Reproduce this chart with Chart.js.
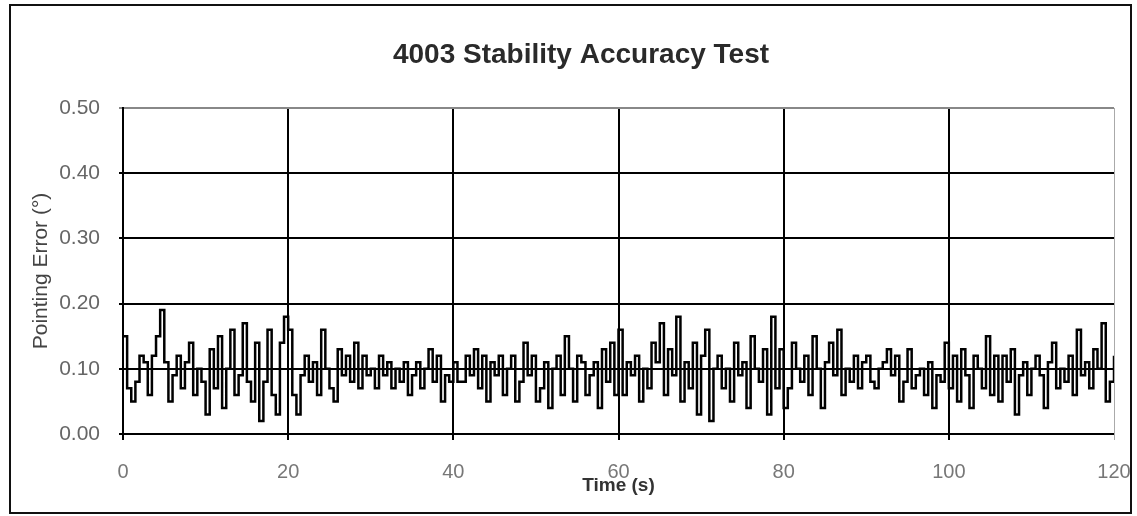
<!DOCTYPE html>
<html>
<head>
<meta charset="utf-8">
<script src="https://cdn.jsdelivr.net/npm/chart.js@4"></script>
<style>
  body { margin: 0; background: #fff; }
  canvas { display: block; }
</style>
</head>
<body>
<canvas id="stabilityChart" width="1137" height="516"></canvas>
<script>
// Titles and axes
const chartTitle = '4003 Stability Accuracy Test';
const xTitle = 'Time (s)';
const yTitle = 'Pointing Error (°)';
const xTicks = [0, 20, 40, 60, 80, 100, 120];
const yTicks = [0.00, 0.10, 0.20, 0.30, 0.40, 0.50];

// Sample interval (s) and pointing error, one array per 20 s
const sampleStep = 0.5;
const error0to20 = [0.15, 0.07, 0.05, 0.08, 0.12, 0.11, 0.06, 0.12, 0.15, 0.19,
  0.11, 0.05, 0.09, 0.12, 0.07, 0.11, 0.14, 0.06, 0.10, 0.08,
  0.03, 0.13, 0.07, 0.15, 0.04, 0.10, 0.16, 0.06, 0.09, 0.17,
  0.08, 0.05, 0.14, 0.02, 0.08, 0.16, 0.06, 0.03, 0.14, 0.18];
const error20to40 = [0.16, 0.06, 0.03, 0.09, 0.12, 0.08, 0.11, 0.06, 0.16, 0.10,
  0.07, 0.05, 0.13, 0.09, 0.12, 0.08, 0.14, 0.07, 0.12, 0.09,
  0.10, 0.07, 0.12, 0.09, 0.11, 0.07, 0.10, 0.08, 0.11, 0.06,
  0.09, 0.11, 0.07, 0.10, 0.13, 0.08, 0.12, 0.05, 0.09, 0.08];
const error40to60 = [0.11, 0.08, 0.08, 0.12, 0.09, 0.13, 0.07, 0.12, 0.05, 0.11,
  0.09, 0.12, 0.06, 0.10, 0.12, 0.05, 0.08, 0.14, 0.09, 0.12,
  0.05, 0.07, 0.11, 0.04, 0.10, 0.12, 0.06, 0.15, 0.10, 0.05,
  0.12, 0.11, 0.06, 0.09, 0.11, 0.04, 0.13, 0.08, 0.14, 0.06];
const error60to80 = [0.16, 0.06, 0.11, 0.09, 0.12, 0.05, 0.10, 0.07, 0.14, 0.11,
  0.17, 0.06, 0.13, 0.09, 0.18, 0.05, 0.11, 0.07, 0.14, 0.03,
  0.12, 0.16, 0.02, 0.10, 0.12, 0.07, 0.10, 0.05, 0.14, 0.09,
  0.11, 0.04, 0.15, 0.10, 0.08, 0.13, 0.03, 0.18, 0.07, 0.13];
const error80to100 = [0.04, 0.07, 0.14, 0.10, 0.08, 0.12, 0.06, 0.15, 0.10, 0.04,
  0.11, 0.14, 0.09, 0.16, 0.06, 0.10, 0.08, 0.12, 0.07, 0.11,
  0.12, 0.08, 0.07, 0.10, 0.11, 0.13, 0.09, 0.12, 0.05, 0.08,
  0.13, 0.07, 0.09, 0.10, 0.06, 0.11, 0.04, 0.09, 0.08, 0.14];
const error100to120 = [0.07, 0.12, 0.05, 0.13, 0.09, 0.04, 0.12, 0.10, 0.07, 0.15,
  0.06, 0.12, 0.05, 0.12, 0.08, 0.13, 0.03, 0.09, 0.11, 0.06,
  0.10, 0.12, 0.09, 0.04, 0.11, 0.14, 0.07, 0.10, 0.08, 0.12,
  0.06, 0.16, 0.09, 0.11, 0.07, 0.13, 0.10, 0.17, 0.05, 0.08, 0.12];

const pointingError = [].concat(error0to20, error20to40, error40to60,
  error60to80, error80to100, error100to120);
const points = pointingError.map((v, i) => ({ x: i * sampleStep, y: v }));

const fontFamily = '"Liberation Sans", Arial, sans-serif';

// frame round the figure + title text
const framePlugin = {
  id: 'frame',
  afterDraw(chart) {
    const c = chart.ctx;
    c.save();
    c.strokeStyle = '#111';
    c.lineWidth = 2;
    c.strokeRect(10, 5, 1121, 508);
    c.fillStyle = '#2a2a2a';
    c.font = 'bold 28px ' + fontFamily;
    c.textAlign = 'center';
    c.textBaseline = 'middle';
    c.fillText(chartTitle, 581, 55);
    c.restore();
  }
};

new Chart(document.getElementById('stabilityChart'), {
  type: 'line',
  data: {
    datasets: [{
      data: points,
      borderColor: '#000',
      borderWidth: 2.5,
      pointRadius: 0,
      stepped: true,
      fill: false
    }]
  },
  options: {
    responsive: false,
    animation: false,
    devicePixelRatio: 1,
    layout: { padding: { top: 108, right: 23, bottom: 0, left: 0 } },
    plugins: {
      legend: { display: false },
      tooltip: { enabled: false },
      title: { display: false }
    },
    scales: {
      x: {
        type: 'linear',
        min: 0,
        max: 120,
        afterFit: s => {
          s.height = 82;
          s.paddingLeft = 0;
          s.paddingRight = 0;
        },
        afterBuildTicks: s => { s.ticks = xTicks.map(v => ({ value: v })); },
        border: { display: false },
        grid: {
          color: ctx => ctx.tick && ctx.tick.value === 120 ? '#aaa' : '#000',
          lineWidth: ctx => ctx.tick && ctx.tick.value === 120 ? 1 : 2,
          tickLength: 6
        },
        ticks: {
          color: '#777',
          font: { family: fontFamily, size: 20 },
          padding: 20,
          maxRotation: 0
        },
        title: {
          display: true,
          text: xTitle,
          color: '#333',
          font: { family: fontFamily, size: 19, weight: 'bold' },
          padding: { top: 0, bottom: 19 }
        }
      },
      y: {
        min: 0,
        max: 0.5,
        afterFit: s => { s.width = 123; },
        afterBuildTicks: s => { s.ticks = yTicks.map(v => ({ value: v })); },
        border: { display: true, color: '#000', width: 2 },
        grid: {
          color: ctx => ctx.tick && ctx.tick.value === 0.5 ? '#888' : '#000',
          lineWidth: 2,
          tickLength: 4
        },
        ticks: {
          color: '#666',
          font: { family: fontFamily, size: 21 },
          padding: 19,
          callback: v => v.toFixed(2)
        },
        title: {
          display: true,
          text: yTitle,
          color: '#444',
          font: { family: fontFamily, size: 21 },
          padding: { top: 29, bottom: 0 }
        }
      }
    }
  },
  plugins: [framePlugin]
});
</script>
</body>
</html>
